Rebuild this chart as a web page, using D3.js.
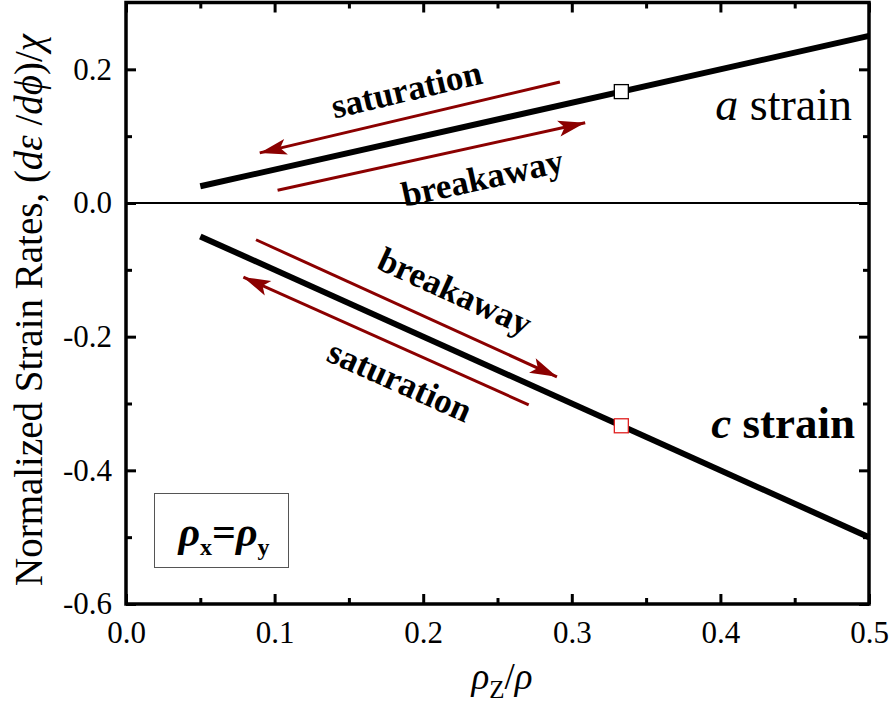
<!DOCTYPE html>
<html>
<head>
<meta charset="utf-8">
<script src="https://cdn.jsdelivr.net/npm/d3@7"></script>
<style>
  body { margin: 0; background: #fff; }
  text { font-family: "Liberation Serif", "Times New Roman", serif !important; }
</style>
</head>
<body>
<div id="chart"></div>
<script>
// data
const lineX = [0.05, 0.5];
const aStrain = [0.025, 0.25];
const cStrain = [-0.05, -0.5];
const markX = [1 / 3, 1 / 3];
const markY = [1 / 6, -1 / 3];
const markStroke = ['#000', '#e02020'];
const xTicks = [0, 0.1, 0.2, 0.3, 0.4, 0.5];
const yTicks = [-0.6, -0.4, -0.2, 0.0, 0.2];
// arrows: [x0, y0, x1, y1], head at (x1, y1)
const arrowLines = [
  [0.292, 0.181, 0.090, 0.075],
  [0.102, 0.019, 0.309, 0.120],
  [0.0875, -0.055, 0.290, -0.260],
  [0.271, -0.302, 0.079, -0.111]
];
const arrowLabels = ['saturation', 'breakaway', 'breakaway', 'saturation'];
const labelPos = [[0.189, 0.168], [0.240, 0.036], [0.221, -0.134], [0.184, -0.268]];

const W = 892, H = 704;
const margin = {left: 126, right: 23, top: 2.5, bottom: 100};

const svg = d3.select('#chart').append('svg')
  .attr('width', W).attr('height', H);

const x = d3.scaleLinear().domain([0, 0.5]).range([margin.left, W - margin.right]);
const y = d3.scaleLinear().domain([-0.6, 0.3]).range([H - margin.bottom, margin.top]);

const fmt = d => d3.format('.1f')(d).replace('−', '-');

// frame
svg.append('rect')
  .attr('x', x(0)).attr('y', y(0.3))
  .attr('width', x(0.5) - x(0)).attr('height', y(-0.6) - y(0.3))
  .attr('fill', 'none').attr('stroke', '#000').attr('stroke-width', 3.5);

// zero line
svg.append('line')
  .attr('x1', x(0)).attr('x2', x(0.5))
  .attr('y1', y(0)).attr('y2', y(0))
  .attr('stroke', '#000').attr('stroke-width', 2);

function styleAxis(g) {
  g.attr('font-family', null);
  g.select('.domain').remove();
  g.selectAll('.tick line').attr('stroke', '#000').attr('stroke-width', 3);
  g.selectAll('.tick text')
    .style('font-size', '31px').attr('fill', '#000');
}

const xMinor = d3.range(0.05, 0.5, 0.1);
const yMinor = d3.range(-0.5, 0.3, 0.2);

// bottom
svg.append('g').attr('transform', `translate(0,${y(-0.6)})`)
  .call(d3.axisBottom(x).tickValues(xTicks).tickSize(-10).tickPadding(17).tickFormat(fmt))
  .call(styleAxis);
svg.append('g').attr('transform', `translate(0,${y(-0.6)})`)
  .call(d3.axisBottom(x).tickValues(xMinor).tickSize(-6).tickFormat(''))
  .call(styleAxis);
// top
svg.append('g').attr('transform', `translate(0,${y(0.3)})`)
  .call(d3.axisTop(x).tickValues(xTicks).tickSize(-10).tickFormat(''))
  .call(styleAxis);
svg.append('g').attr('transform', `translate(0,${y(0.3)})`)
  .call(d3.axisTop(x).tickValues(xMinor).tickSize(-6).tickFormat(''))
  .call(styleAxis);
// left
svg.append('g').attr('transform', `translate(${x(0)},0)`)
  .call(d3.axisLeft(y).tickValues(yTicks).tickSize(-10).tickPadding(14).tickFormat(fmt))
  .call(styleAxis);
svg.append('g').attr('transform', `translate(${x(0)},0)`)
  .call(d3.axisLeft(y).tickValues(yMinor).tickSize(-6).tickFormat(''))
  .call(styleAxis);
// right
svg.append('g').attr('transform', `translate(${x(0.5)},0)`)
  .call(d3.axisRight(y).tickValues(yTicks).tickSize(-10).tickFormat(''))
  .call(styleAxis);
svg.append('g').attr('transform', `translate(${x(0.5)},0)`)
  .call(d3.axisRight(y).tickValues(yMinor).tickSize(-6).tickFormat(''))
  .call(styleAxis);

// strain lines
const line = d3.line().x(d => x(d[0])).y(d => y(d[1]));
[aStrain, cStrain].forEach(s => {
  svg.append('path')
    .datum(lineX.map((v, i) => [v, s[i]]))
    .attr('d', line)
    .attr('fill', 'none').attr('stroke', '#000').attr('stroke-width', 6);
});

// square markers
markX.forEach((mx, i) => {
  svg.append('rect')
    .attr('x', x(mx) - 7).attr('y', y(markY[i]) - 7)
    .attr('width', 14).attr('height', 14)
    .attr('fill', '#fff').attr('stroke', markStroke[i]).attr('stroke-width', 1.3);
});

// arrows
const arrowColor = '#8b0000';
svg.append('defs').append('marker')
  .attr('id', 'head').attr('markerUnits', 'userSpaceOnUse')
  .attr('viewBox', '-28 -10 30 20').attr('refX', 0).attr('refY', 0)
  .attr('markerWidth', 30).attr('markerHeight', 20).attr('orient', 'auto')
  .append('path').attr('d', 'M0,0 L-27,-8 L-21,0 L-27,8 Z').attr('fill', arrowColor);

arrowLines.forEach(a => {
  svg.append('line')
    .attr('x1', x(a[0])).attr('y1', y(a[1]))
    .attr('x2', x(a[2])).attr('y2', y(a[3]))
    .attr('stroke', arrowColor).attr('stroke-width', 3)
    .attr('marker-end', 'url(#head)');
});

// arrow labels, rotated along the arrows
arrowLines.forEach((a, i) => {
  const ang = Math.atan((y(a[3]) - y(a[1])) / (x(a[2]) - x(a[0]))) * 180 / Math.PI;
  const px = x(labelPos[i][0]), py = y(labelPos[i][1]);
  svg.append('text')
    .attr('transform', `translate(${px},${py}) rotate(${ang})`)
    .attr('text-anchor', 'middle').attr('dy', '0.3em')
    .style('font-size', '35px').style('font-weight', 'bold')
    .text(arrowLabels[i]);
});

// a strain / c strain
const aLab = svg.append('text').attr('x', 852).attr('y', 120)
  .attr('text-anchor', 'end').style('font-size', '46px');
aLab.append('tspan').style('font-style', 'italic').text('a');
aLab.append('tspan').text(' strain');

const cLab = svg.append('text').attr('x', 855).attr('y', 438)
  .attr('text-anchor', 'end').style('font-size', '45px').style('font-weight', 'bold');
cLab.append('tspan').style('font-style', 'italic').text('c');
cLab.append('tspan').text(' strain');

// legend box
svg.append('rect')
  .attr('x', 154.5).attr('y', 493.5).attr('width', 134).attr('height', 74)
  .attr('fill', 'none').attr('stroke', '#555').attr('stroke-width', 1);
const leg = svg.append('text').attr('x', 224).attr('y', 546)
  .attr('text-anchor', 'middle').style('font-size', '42px').style('font-weight', 'bold');
leg.append('tspan').style('font-style', 'italic').text('ρ');
leg.append('tspan').attr('dy', 9).style('font-size', '24px').text('x');
leg.append('tspan').attr('dy', -9).text('=');
leg.append('tspan').style('font-style', 'italic').text('ρ');
leg.append('tspan').attr('dy', 9).style('font-size', '24px').text('y');

// axis titles
const xt = svg.append('text').attr('x', 502).attr('y', 689)
  .attr('text-anchor', 'middle').style('font-size', '37px');
xt.append('tspan').style('font-style', 'italic').text('ρ');
xt.append('tspan').attr('dy', 9).style('font-size', '25px').text('Z');
xt.append('tspan').attr('dy', -9).text('/');
xt.append('tspan').style('font-style', 'italic').text('ρ');

const yt = svg.append('text')
  .attr('transform', 'translate(42,310) rotate(-90)')
  .attr('text-anchor', 'middle').style('font-size', '39px');
yt.append('tspan').text('Normalized Strain Rates, (');
yt.append('tspan').style('font-style', 'italic').text('dε');
yt.append('tspan').text(' /');
yt.append('tspan').style('font-style', 'italic').text('dϕ');
yt.append('tspan').text(')/');
yt.append('tspan').style('font-style', 'italic').text('χ');
</script>
</body>
</html>
